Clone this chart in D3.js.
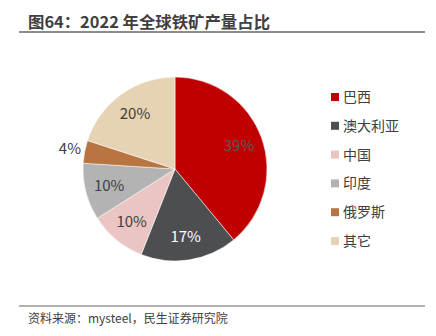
<!DOCTYPE html>
<html><head><meta charset="utf-8">
<script src="https://cdn.jsdelivr.net/npm/d3@7"></script>
<style>body{margin:0;background:#fff;}svg{display:block;}</style>
</head><body>
<svg id="c" width="436" height="336"></svg>
<script>
const categories = ["巴西","澳大利亚","中国","印度","俄罗斯","其它"];
const values = [39, 17, 10, 10, 4, 20];
const labels = ["39%","17%","10%","10%","4%","20%"];
const colors = ["#C00000","#4D4E50","#EBC4C4","#B3B3B3","#B87542","#E6D3B3"];
const labelColors = ["#595959","#FFFFFF","#404040","#404040","#404040","#404040"];
const outside = [false,false,false,false,true,false];

const svg = d3.select("#c");
const font = "'Noto Sans CJK SC', 'Microsoft YaHei', sans-serif";

// Title
svg.append("text").attr("x",28).attr("y",28)
  .attr("font-family",font).attr("font-weight","bold").attr("font-size",16.4)
  .attr("fill","#404040").text("图64：2022 年全球铁矿产量占比");
svg.append("line").attr("x1",19).attr("x2",425).attr("y1",32).attr("y2",32)
  .attr("stroke","#666").attr("stroke-width",1.5);

// Pie
const cx = 175, cy = 169, r = 92;
const pie = d3.pie().sort(null).value(d=>d)(values);
const arc = d3.arc().innerRadius(0).outerRadius(r);
const g = svg.append("g").attr("transform",`translate(${cx},${cy})`);
g.selectAll("path").data(pie).join("path")
  .attr("d",arc).attr("fill",(d,i)=>colors[i]).attr("stroke","#fff").attr("stroke-width",0.5);
const inArc = d3.arc().innerRadius(68).outerRadius(68);
const outArc = d3.arc().innerRadius(107).outerRadius(107);
g.selectAll("text.lbl").data(pie).join("text").attr("class","lbl")
  .attr("transform",(d,i)=>`translate(${(outside[i]?outArc:inArc).centroid(d)})`)
  .attr("text-anchor","middle").attr("dy","0.36em")
  .attr("font-family",font).attr("font-size",15)
  .attr("fill",(d,i)=>labelColors[i]).text((d,i)=>labels[i]);

// Legend
const lg = svg.append("g");
const ly = d3.scalePoint().domain(categories).range([97,241]);
categories.forEach((c,i)=>{
  lg.append("rect").attr("x",331).attr("y",ly(c)-4).attr("width",8).attr("height",8).attr("fill",colors[i]);
  lg.append("text").attr("x",343).attr("y",ly(c)).attr("dy","0.36em")
    .attr("font-family",font).attr("font-size",14).attr("fill","#404040").text(c);
});

// Footer
svg.append("line").attr("x1",19).attr("x2",425).attr("y1",306).attr("y2",306)
  .attr("stroke","#666").attr("stroke-width",1.2);
svg.append("text").attr("x",28).attr("y",323)
  .attr("font-family",font).attr("font-size",12).attr("fill","#404040")
  .text("资料来源：mysteel，民生证券研究院");
</script>
</body></html>
